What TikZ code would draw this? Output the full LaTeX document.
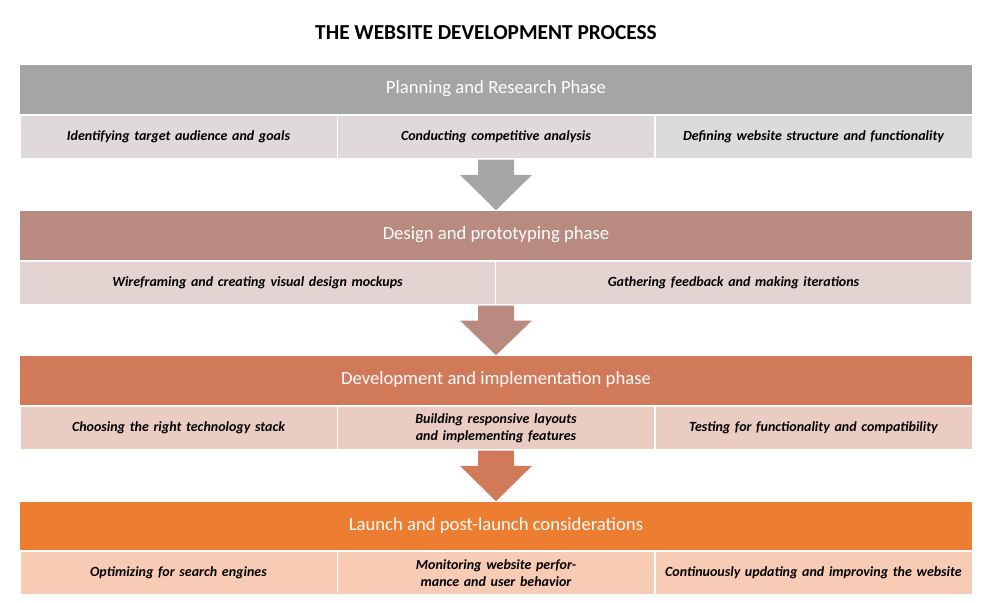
\documentclass[tikz,border=0pt]{standalone}
\usepackage{fontspec}
\setmainfont{Carlito}
\usetikzlibrary{calc}
\definecolor{bandA}{HTML}{A5A5A5}
\definecolor{cellA}{HTML}{DFD9D9}
\definecolor{cellAx}{HTML}{DBDBDB}
\definecolor{bandB}{HTML}{B98A80}
\definecolor{cellB}{HTML}{E3D3D1}
\definecolor{bandC}{HTML}{D07A5A}
\definecolor{cellC}{HTML}{EBCCC3}
\definecolor{bandD}{HTML}{ED7D31}
\definecolor{cellD}{HTML}{F8CBB5}
\begin{document}
\begin{tikzpicture}[x=0.75pt,y=-0.75pt,
    band/.style={fill=#1,text=white,minimum width=714pt,minimum height=36.75pt,
        inner sep=0pt,font=\fontsize{14}{16}\selectfont},
    cell/.style={fill=#1,draw=white,line width=1pt,minimum height=33pt,inner sep=2pt,
        align=center,font=\fontsize{10.5}{12.5}\selectfont\bfseries\itshape},
    cellthree/.style={cell=#1,minimum width=238pt,text width=228pt},
    celltwo/.style={cell=#1,minimum width=357pt,text width=347pt}]

    \useasboundingbox (0,0) rectangle (983,603);
    \node[font=\fontsize{16}{18}\selectfont\bfseries] (title) at (486,33) {THE WEBSITE DEVELOPMENT PROCESS};

    % planning
    \node[band=bandA] (plan) at (496,89) {Planning and Research Phase};
    \node[cellthree=cellA] (p1) at (178.5,137) {Identifying target audience and goals};
    \node[cellthree=cellA] (p2) at (496,137) {Conducting competitive analysis};
    \node[cellthree=cellAx] (p3) at (813.5,137) {Defining website structure and functionality};

    % design
    \node[band=bandB] (design) at (496,235) {Design and prototyping phase};
    \node[celltwo=cellB] (d1) at (257.5,283) {Wireframing and creating visual design mockups};
    \node[celltwo=cellB] (d2) at (733.5,283) {Gathering feedback and making iterations};

    % development
    \node[band=bandC] (dev) at (496,380) {Development and implementation phase};
    \node[cellthree=cellC] (v1) at (178.5,428) {Choosing the right technology stack};
    \node[cellthree=cellC] (v2) at (496,428) {Building responsive layouts and implementing features};
    \node[cellthree=cellC] (v3) at (813.5,428) {Testing for functionality and compatibility};

    % launch
    \node[band=bandD] (launch) at (496,526) {Launch and post-launch considerations};
    \node[cellthree=cellD] (l1) at (178.5,573) {Optimizing for search engines};
    \node[cellthree=cellD] (l2) at (496,573) {Monitoring website performance and user behavior};
    \node[cellthree=cellD] (l3) at (813.5,573) {Continuously updating and improving the website};

    % block arrows
    \foreach \a/\b/\c in {p2/design/bandA,d1/dev/bandB,v2/launch/bandC}{
        \coordinate (top) at ($(\a.south)!0!(\b.north)$);
        \fill[\c] (496-18,0 |- \a.south) -- (496+18,0 |- \a.south)
            -- ($(496+18,0 |- \a.south)!0.3!(496+18,0 |- \b.north)$)
            -- ($(496+36,0 |- \a.south)!0.3!(496+36,0 |- \b.north)$)
            -- (496,0 |- \b.north)
            -- ($(496-36,0 |- \a.south)!0.3!(496-36,0 |- \b.north)$)
            -- ($(496-18,0 |- \a.south)!0.3!(496-18,0 |- \b.north)$) -- cycle;
    }
\end{tikzpicture}
\end{document}
